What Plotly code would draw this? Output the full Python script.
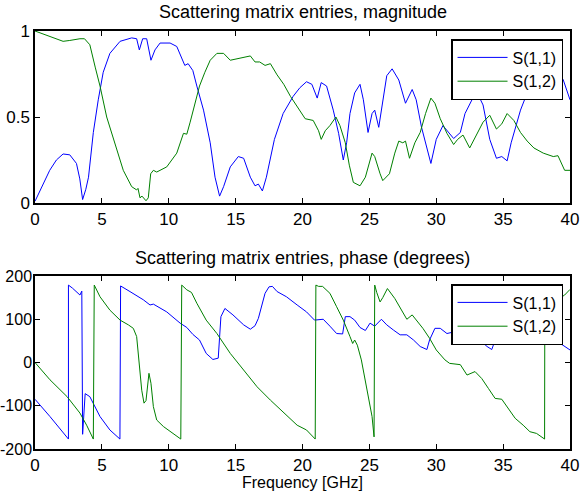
import plotly.graph_objects as go

# ---- data ----
f_s11_mag = [0, 0.5, 1.1, 1.6, 2.1, 2.6, 3.1, 3.35, 3.56, 3.8, 4.0, 4.36, 4.73, 5.1, 5.6, 6.36, 7.23, 7.6, 7.8,
             8.05, 8.35, 8.67, 8.97, 9.35, 10.1, 10.6, 11.2, 11.45, 11.8, 12.1, 12.6, 13.1, 13.46, 13.8, 14.1,
             14.6, 15.2, 15.6, 16.1, 16.45, 16.7, 17.0, 17.3, 17.9, 18.55, 19.3, 19.8, 20.3, 20.7, 21.1, 21.4,
             21.8, 22.3, 22.7, 23.05, 23.3, 23.55, 23.9, 24.3, 24.55, 24.9, 25.2, 25.4, 25.7, 26.0, 26.3, 26.7,
             27.2, 27.7, 28.2, 28.5, 28.9, 29.6, 30.0, 30.5, 31.3, 31.8, 32.15, 32.8, 33.0, 33.5, 34.0, 34.5,
             34.9, 35.3, 35.6, 36.3, 36.9, 37.5, 38.2, 38.8, 39.5, 40]
s11_mag = [0.01, 0.09, 0.19, 0.25, 0.285, 0.28, 0.23, 0.14, 0.02, 0.08, 0.15, 0.41, 0.6, 0.76, 0.87, 0.94, 0.96,
           0.955, 0.89, 0.955, 0.955, 0.83, 0.89, 0.93, 0.93, 0.91, 0.80, 0.81, 0.77, 0.68, 0.54, 0.35, 0.15,
           0.04, 0.095, 0.21, 0.27, 0.26, 0.15, 0.10, 0.11, 0.07, 0.15, 0.37, 0.52, 0.62, 0.67, 0.705, 0.69,
           0.61, 0.70, 0.68, 0.54, 0.405, 0.25, 0.35, 0.52, 0.64, 0.69, 0.60, 0.41, 0.52, 0.54, 0.44, 0.60,
           0.74, 0.78, 0.715, 0.58, 0.66, 0.60, 0.44, 0.23, 0.37, 0.45, 0.375, 0.41, 0.52, 0.62, 0.65, 0.57,
           0.37, 0.26, 0.27, 0.245, 0.35, 0.54, 0.66, 0.75, 0.81, 0.81, 0.715, 0.60]

f_s12_mag = [0, 1.1, 2.1, 2.6, 3.36, 3.7, 4.1, 4.5, 4.86, 5.36, 5.86, 6.6, 7.23, 7.6, 7.7, 7.85, 8.0, 8.3, 8.47,
             8.65, 8.85, 9.1, 9.85, 10.6, 11.1, 11.35, 11.6, 12.0, 12.3, 12.7, 13.1, 13.6, 14.1, 14.6, 15.3,
             16.1, 16.45, 16.8, 17.2, 17.6, 18.1, 18.6, 19.1, 19.6, 20.2, 20.8, 21.2, 21.4, 21.7, 22.05, 22.5,
             22.8, 23.2, 23.5, 23.8, 24.3, 24.7, 25.2, 25.4, 25.8, 26.0, 26.5, 26.9, 27.2, 27.5, 27.7, 28.0,
             28.4, 28.8, 29.2, 29.6, 29.9, 30.3, 30.8, 31.3, 31.6, 32.0, 32.5, 33.0, 33.5, 34.0, 34.5, 34.9,
             35.3, 35.8, 36.3, 36.8, 37.3, 38.0, 38.75, 39.1, 39.6, 40]
s12_mag = [1.0, 0.967, 0.94, 0.945, 0.955, 0.955, 0.92, 0.79, 0.68, 0.50, 0.37, 0.19, 0.095, 0.076, 0.085, 0.03,
           0.04, 0.013, 0.03, 0.17, 0.19, 0.18, 0.21, 0.29, 0.405, 0.40, 0.47, 0.60, 0.68, 0.76, 0.83, 0.87,
           0.87, 0.83, 0.84, 0.855, 0.82, 0.82, 0.80, 0.81, 0.745, 0.69, 0.62, 0.56, 0.49, 0.48, 0.42, 0.37,
           0.42, 0.45, 0.50, 0.45, 0.35, 0.22, 0.12, 0.10, 0.15, 0.29, 0.27, 0.17, 0.13, 0.17, 0.29, 0.36,
           0.35, 0.36, 0.26, 0.35, 0.41, 0.52, 0.61, 0.58, 0.49, 0.405, 0.34, 0.37, 0.395, 0.32, 0.395, 0.47,
           0.51, 0.43, 0.46, 0.52, 0.48, 0.41, 0.36, 0.32, 0.29, 0.27, 0.275, 0.19, 0.19]

f_s11_ph = [0, 1.12, 2.5, 2.5, 2.8, 3.36, 3.5, 3.56, 3.75, 4.1, 4.86, 5.6, 6.35, 6.4, 7.1, 8.1, 8.6, 8.85, 9.85,
            10.85, 11.35, 11.8, 12.3, 12.8, 13.3, 13.7, 13.9, 14.2, 14.8, 15.6, 16.1, 16.45, 16.7, 16.95,
            17.2, 17.5, 17.75, 18.1, 18.8, 19.6, 20.3, 20.9, 21.55, 22.05, 22.55, 23.0, 23.2, 23.55, 23.9,
            24.3, 24.7, 25.05, 25.4, 25.9, 26.3, 26.8, 27.3, 27.8, 28.3, 28.8, 29.3, 29.5, 29.9, 30.3, 30.8,
            31.5, 32.3, 33.1, 33.8, 34.15, 34.5, 35.2, 36.0, 37.0, 38.0, 38.5, 39.25, 40]
s11_ph = [-85, -125, -177, 179, 172, 156, 165, -166, -72, -79, -125, -156, -177, 177, 164, 145, 133, 135, 117,
          91, 81, 65, 52, 21, 7, 10, 106, 125, 110, 87, 77, 85, 102, 129, 160, 175, 176, 164, 152, 133, 117,
          98, 100, 84, 67, 66, 106, 106, 98, 81, 74, 91, 84, 100, 87, 75, 64, 64, 52, 37, 30, 52, 79, 79, 67,
          72, 68, 56, 37, 30, 60, 75, 72, 68, 63, 60, 44, 29]

f_s12_ph = [0, 1.12, 2.4, 3.36, 3.86, 4.36, 4.43, 4.86, 5.6, 6.36, 6.98, 7.35, 7.6, 7.8, 7.98, 8.15, 8.3, 8.52,
            8.67, 8.85, 9.1, 9.6, 10.3, 10.9, 10.97, 11.35, 11.7, 12.1, 12.8, 13.6, 14.6, 15.6, 16.6, 17.6,
            18.6, 19.6, 20.3, 20.95, 21.0, 21.2, 21.5, 22.05, 22.55, 23.05, 23.55, 23.75, 23.9, 24.1, 24.4,
            24.8, 25.2, 25.35, 25.4, 25.55, 25.8, 26.0, 26.35, 26.9, 27.4, 27.8, 28.2, 28.5, 29.0, 29.5, 30.0,
            30.65, 31.0, 31.8, 32.3, 32.9, 33.4, 33.9, 34.4, 34.9, 35.4, 35.9, 36.5, 37.0, 37.5, 38.1, 38.12,
            38.8, 39.4, 39.6, 40]
s12_ph = [0, -40, -79, -117, -145, -177, 179, 152, 121, 98, 87, 79, 60, -10, -64, -94, -88, -25, -48, -102,
          -133, -148, -164, -177, 179, 168, 162, 137, 98, 67, 21, -17, -56, -87, -117, -145, -156, -177, 179,
          176, 176, 160, 129, 98, 60, 44, 52, 40, 6, -56, -125, -172, 179, 162, 140, 150, 171, 148, 121, 100,
          110, 98, 79, 56, 29, 6, -2, -5, -29, -21, -37, -60, -83, -85, -106, -129, -145, -160, -164, -177,
          178, 165, 152, 156, 169]

x_ticks = [0, 5, 10, 15, 20, 25, 30, 35, 40]
mag_ticks = [0, 0.5, 1]
mag_tick_text = ["0", "0.5", "1"]
ph_ticks = [-200, -100, 0, 100, 200]
ph_tick_text = ["-200", "-100", "0", "100", "200"]

BLUE = "#0000FF"
GREEN = "#008000"
FONT = "Liberation Sans, Arial, sans-serif"

fig = go.Figure()
fig.add_trace(go.Scatter(x=f_s11_mag, y=s11_mag, mode="lines", name="S(1,1)", legendgroup="a",
                         line=dict(color=BLUE, width=1), xaxis="x", yaxis="y", legend="legend"))
fig.add_trace(go.Scatter(x=f_s12_mag, y=s12_mag, mode="lines", name="S(1,2)", legendgroup="b",
                         line=dict(color=GREEN, width=1), xaxis="x", yaxis="y", legend="legend"))
fig.add_trace(go.Scatter(x=f_s11_ph, y=s11_ph, mode="lines", name="S(1,1)", legendgroup="c",
                         line=dict(color=BLUE, width=1), xaxis="x2", yaxis="y2", legend="legend2"))
fig.add_trace(go.Scatter(x=f_s12_ph, y=s12_ph, mode="lines", name="S(1,2)", legendgroup="d",
                         line=dict(color=GREEN, width=1), xaxis="x2", yaxis="y2", legend="legend2"))

H = 493.0
def py(p):
    return 1 - p / H

axis_common = dict(showline=True, linecolor="black", linewidth=1.5, mirror="ticks", ticks="inside",
                   ticklen=5, tickcolor="black", tickwidth=1, showgrid=False, zeroline=False,
                   automargin=False)
xtick_font = dict(family=FONT, size=17, color="black")
ytick_font = dict(family=FONT, size=16, color="black")

legend_common = dict(bgcolor="white", bordercolor="black", borderwidth=1.5, tracegroupgap=0,
                     font=dict(family=FONT, size=16, color="black"),
                     xanchor="right", yanchor="top", x=0.987, itemwidth=50)

fig.update_layout(
    width=583, height=493,
    margin=dict(l=35, r=13, t=0, b=0, autoexpand=False),
    paper_bgcolor="white", plot_bgcolor="white",
    xaxis=dict(domain=[0, 1], range=[0, 40], tickvals=x_ticks, anchor="y", tickfont=xtick_font, **axis_common),
    yaxis=dict(domain=[py(203), py(31)], range=[0, 1], tickvals=mag_ticks, ticktext=mag_tick_text,
               anchor="x", tickfont=dict(family=FONT, size=17, color="black"), **axis_common),
    xaxis2=dict(domain=[0, 1], range=[0, 40], tickvals=x_ticks, anchor="y2", tickfont=xtick_font, **axis_common),
    yaxis2=dict(domain=[py(449), py(276)], range=[-200, 200], tickvals=ph_ticks, ticktext=ph_tick_text,
                anchor="x2", tickfont=ytick_font, ticklabelstandoff=-2, **axis_common),
    legend=dict(y=py(39), **legend_common),
    legend2=dict(y=py(284), **legend_common),
    showlegend=True,
    annotations=[
        dict(text="Scattering matrix entries, magnitude", x=0.5, y=py(12), xref="paper", yref="paper",
             showarrow=False, xanchor="center", yanchor="middle", font=dict(family=FONT, size=18, color="black")),
        dict(text="Scattering matrix entries, phase (degrees)", x=0.5, y=py(258), xref="paper", yref="paper",
             showarrow=False, xanchor="center", yanchor="middle", font=dict(family=FONT, size=18, color="black")),
        dict(text="Frequency [GHz]", x=0.5, y=py(482), xref="paper", yref="paper",
             showarrow=False, xanchor="center", yanchor="middle", font=dict(family=FONT, size=16, color="black")),
    ],
)

fig.write_html("out.html")
